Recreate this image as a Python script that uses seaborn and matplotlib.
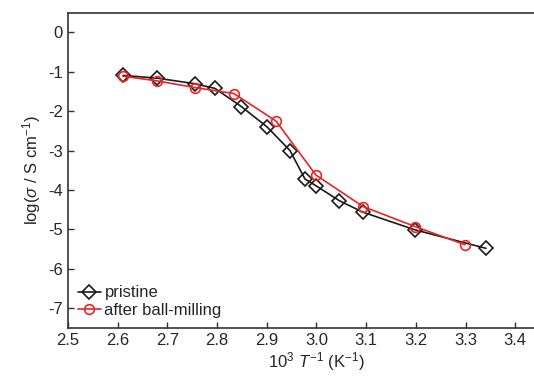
import numpy as np
import pandas as pd
import seaborn as sns
import matplotlib.pyplot as plt

# values
pristine_x = [2.611, 2.680, 2.755, 2.796, 2.849, 2.901, 2.947, 2.977, 2.999,
              3.046, 3.093, 3.198, 3.341]
pristine_y = [-1.09, -1.16, -1.30, -1.42, -1.88, -2.40, -3.00, -3.72, -3.89,
              -4.27, -4.56, -5.01, -5.48]
milled_x = [2.611, 2.680, 2.756, 2.834, 2.919, 2.999, 3.094, 3.199, 3.299]
milled_y = [-1.11, -1.23, -1.40, -1.55, -2.25, -3.62, -4.42, -4.93, -5.39]

x_ticks = [2.5, 2.6, 2.7, 2.8, 2.9, 3.0, 3.1, 3.2, 3.3, 3.4]
y_ticks = [0, -1, -2, -3, -4, -5, -6, -7]

sns.set_style("ticks")
plt.rcParams["font.family"] = ["Liberation Sans", "DejaVu Sans"]
plt.rcParams["mathtext.fontset"] = "custom"
plt.rcParams["mathtext.rm"] = "Liberation Sans"
plt.rcParams["mathtext.it"] = "Liberation Sans:italic"
plt.rcParams["axes.unicode_minus"] = False

df_p = pd.DataFrame({"x": pristine_x, "y": pristine_y})
df_m = pd.DataFrame({"x": milled_x, "y": milled_y})

fig = plt.figure(figsize=(5.34, 3.76), dpi=100)
ax = fig.add_axes([0.127, 0.128, 0.931, 0.838])

sns.lineplot(data=df_p, x="x", y="y", ax=ax, color="#1a1a1a", lw=1.2,
             marker="D", markersize=7.5, mfc="none", mec="#1a1a1a", mew=1.2,
             label="pristine", sort=False)
sns.lineplot(data=df_m, x="x", y="y", ax=ax, color="#ee2222", lw=1.2,
             marker="o", markersize=7, mfc="none", mec="#ee2222", mew=1.2,
             label="after ball-milling", sort=False)

ax.set_xlim(2.5, 3.5)
ax.set_ylim(-7.5, 0.5)
ax.set_xticks(x_ticks)
ax.set_xticklabels([f"{v:.1f}" for v in x_ticks])
ax.set_yticks(y_ticks)
ax.set_yticklabels([str(v) for v in y_ticks])
ax.tick_params(direction="in", length=4, width=1, labelsize=12, color="#333333")
for s in ax.spines.values():
    s.set_linewidth(1.2)
    s.set_color("#333333")

ax.set_xlabel("10$^3$ $T^{-1}$ (K$^{-1}$)", fontsize=12, labelpad=2)
ax.set_ylabel(r"log($\sigma$ / S cm$^{-1}$)", fontsize=12, labelpad=4)

ax.legend(loc="lower left", frameon=False, fontsize=12, handlelength=1.4,
          handletextpad=0.2, borderaxespad=0.2, labelspacing=0.15)

fig.savefig("out.png", dpi=100)
